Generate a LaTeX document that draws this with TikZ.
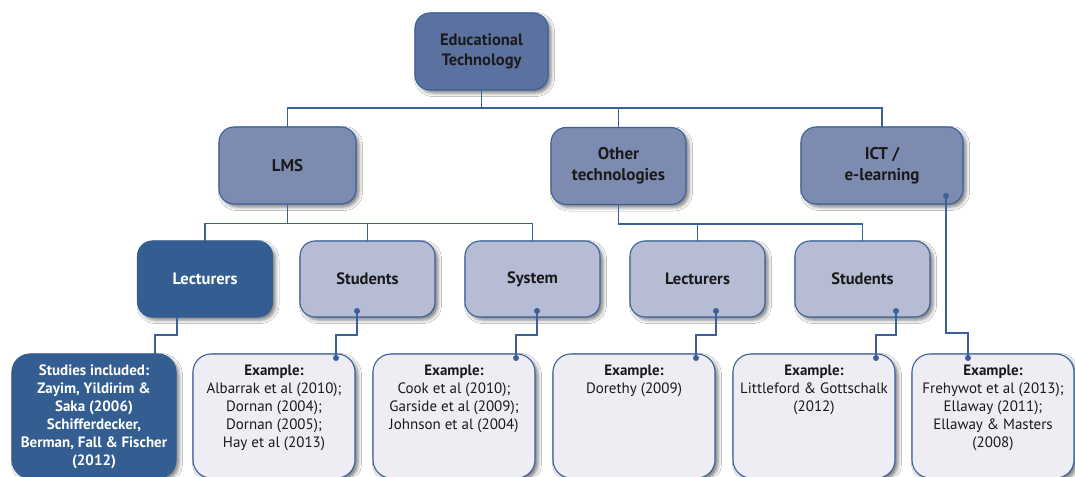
\documentclass[tikz,border=0pt]{standalone}
\usepackage{fontspec}
\setmainfont{PT Sans}
\usetikzlibrary{shadows.blur}

\definecolor{linec}{HTML}{3A6199}
\definecolor{topfill}{HTML}{5B72A1}
\definecolor{midfill}{HTML}{7E8BB1}
\definecolor{lightfill}{HTML}{B6BCD4}
\definecolor{darkfill}{HTML}{345E91}
\definecolor{paperfill}{HTML}{EDEDF3}
\definecolor{inkc}{HTML}{1A1A1A}

\newcommand\leaftext[1]{\parbox[c][124pt][t]{160pt}{\centering\vspace*{11pt}#1}}

\tikzset{
  x=1pt, y=-1pt,
  every node/.style={inner sep=0pt, outer sep=0pt},
  shade/.style={blur shadow={shadow xshift=3pt, shadow yshift=-3pt,
      shadow blur radius=3.5pt, shadow opacity=50}},
  basebox/.style={draw=linec, line width=1.1pt, rounded corners=15pt, shade,
      align=center, text=inkc},
  topbox/.style={basebox, fill=topfill, minimum width=133pt, minimum height=77pt,
      font=\fontsize{16.5}{20}\selectfont\bfseries},
  midbox/.style={basebox, fill=midfill, minimum height=77pt,
      font=\fontsize{17}{21}\selectfont\bfseries},
  catbox/.style={basebox, fill=lightfill, minimum width=135pt, minimum height=76pt,
      font=\fontsize{16.5}{20}\selectfont\bfseries},
  keybox/.style={catbox, fill=darkfill, draw=darkfill, text=white},
  leafbox/.style={basebox, fill=paperfill, rounded corners=18pt,
      minimum width=162pt, minimum height=124pt,
      font=\fontsize{15}{18}\selectfont},
  darkleaf/.style={leafbox, fill=darkfill, draw=darkfill, text=white},
  link/.style={draw=linec, line width=1.3pt},
  pin/.style={circle, fill=linec, minimum size=6pt},
}

\begin{document}
\begin{tikzpicture}
\useasboundingbox[fill=white] (0,0) rectangle (1075,476);

% top of the tree
\node[topbox] (et) at (481.5,51.5) {Educational\\Technology};

% second level
\node[midbox, minimum width=137pt] (lms) at (287.5,165.5) {LMS};
\node[midbox, minimum width=135pt] (oth) at (618.5,166) {Other\\technologies};
\node[midbox, minimum width=162pt] (ict) at (882,165.5) {ICT /\\e-learning};

% third level
\node[keybox] (lec1) at (205,279) {Lecturers};
\node[catbox] (stu1) at (367.5,279) {Students};
\node[catbox] (sys)  at (532.5,279) {System};
\node[catbox] (lec2) at (697.5,279) {Lecturers};
\node[catbox] (stu2) at (862.5,279) {Students};

% leaves
\node[darkleaf, minimum width=164pt] (inc) at (94,416)
  {\leaftext{\bfseries Studies included:\\Zayim, Yildirim \&\\Saka (2006)\\Schifferdecker,\\Berman, Fall \& Fischer\\(2012)}};
\node[leafbox] (ex1) at (274,416)
  {\leaftext{\textbf{Example:}\\Albarrak et al (2010);\\Dornan (2004);\\Dornan (2005);\\Hay et al (2013)}};
\node[leafbox] (ex2) at (454,416)
  {\leaftext{\textbf{Example:}\\Cook et al (2010);\\Garside et al (2009);\\Johnson et al (2004)}};
\node[leafbox] (ex3) at (634,416)
  {\leaftext{\textbf{Example:}\\Dorethy (2009)}};
\node[leafbox] (ex4) at (814,416)
  {\leaftext{\textbf{Example:}\\Littleford \& Gottschalk\\(2012)}};
\node[leafbox] (ex5) at (993,416)
  {\leaftext{\textbf{Example:}\\Frehywot et al (2013);\\Ellaway (2011);\\Ellaway \& Masters\\(2008)}};

% first branching
\draw[link] (et.south) -- ++(0,18) coordinate (bus1);
\draw[link] (lms.north) |- (ict.north |- bus1) -- (ict.north);
\draw[link] (oth.north) -- (oth.north |- bus1);

% LMS branching
\draw[link] (lms.south) -- ++(0,19.5) coordinate (bus2);
\draw[link] (lec1.north) |- (sys.north |- bus2) -- (sys.north);
\draw[link] (stu1.north) -- (stu1.north |- bus2);

% other technologies branching
\draw[link] (oth.south) -- ++(0,19.5) coordinate (bus3);
\draw[link] (oth.south) |- (stu2.north |- bus3) -- (stu2.north);
\draw[link] (lec2.north) -- (lec2.north |- bus3);

% pins where the leaf links start and end
\node[pin] (p1) at (357,311) {};  \node[pin] (q1) at (336,358) {};
\node[pin] (p2) at (537,311) {};  \node[pin] (q2) at (516,358) {};
\node[pin] (p3) at (716,311) {};  \node[pin] (q3) at (696,358) {};
\node[pin] (p4) at (896,311) {};  \node[pin] (q4) at (876,358) {};
\node[pin] (p5) at (946,196) {};  \node[pin] (q5) at (968,358) {};

% links down to the leaves
\draw[link] ([xshift=-28pt]lec1.south) -- ++(0,18) -| ([xshift=61pt]inc.north);
\draw[link] (p1.center) -- ++(0,24) -| (q1.center);
\draw[link] (p2.center) -- ++(0,24) -| (q2.center);
\draw[link] (p3.center) -- ++(0,24) -| (q3.center);
\draw[link] (p4.center) -- ++(0,24) -| (q4.center);
\draw[link] (p5.center) -- (p5.center |- 0,333) -| (q5.center);
\end{tikzpicture}
\end{document}
